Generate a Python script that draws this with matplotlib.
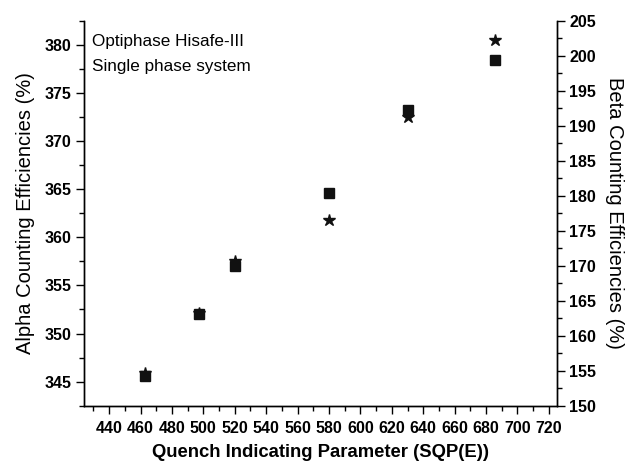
import matplotlib
matplotlib.use("Agg")
import matplotlib.pyplot as plt
from matplotlib.ticker import MultipleLocator

plt.rcParams['font.family'] = ['Liberation Sans', 'DejaVu Sans']

# quench parameter and counting efficiencies
sqp_e      = [463, 497, 520, 580, 630, 686]
alpha_eff  = [345.6, 352.0, 357.0, 364.6, 373.2, 378.4]
beta_eff   = [154.7, 163.3, 170.6, 176.5, 191.2, 202.2]

fig = plt.figure(figsize=(6.3, 4.65), dpi=100)
ax = fig.add_axes([84/630, 1 - 405.7/465, (556.7 - 84)/630, (405.7 - 20.7)/465])
ax2 = ax.twinx()

ax.plot(sqp_e, alpha_eff, 's', color='#111111', markersize=7, zorder=3)
ax2.plot(sqp_e, beta_eff, '*', color='#111111', markersize=9, zorder=3)

ax.set_xlim(424, 725)
ax.set_ylim(342.5, 382.5)
ax2.set_ylim(150, 205)

ax.xaxis.set_major_locator(MultipleLocator(20))
ax.xaxis.set_minor_locator(MultipleLocator(10))
ax.yaxis.set_major_locator(MultipleLocator(5))
ax.yaxis.set_minor_locator(MultipleLocator(2.5))
ax2.yaxis.set_major_locator(MultipleLocator(5))
ax2.yaxis.set_minor_locator(MultipleLocator(2.5))

for a in (ax, ax2):
    a.spines['top'].set_visible(False)
    for s in a.spines.values():
        s.set_linewidth(1.0)
    a.tick_params(which='major', direction='out', length=6, width=1.0,
                  labelsize=11.5, pad=3)
    a.tick_params(which='minor', direction='out', length=3.5, width=1.0)
    for lab in a.get_xticklabels() + a.get_yticklabels():
        lab.set_fontweight('bold')
ax.tick_params(axis='x', which='major', pad=5)

ax.set_xlabel("Quench Indicating Parameter (SQP(E))", fontsize=13.3,
              fontweight='bold', labelpad=6)
ax.set_ylabel("Alpha Counting Efficiencies (%)", fontsize=14.5, labelpad=7)
ax2.set_ylabel("Beta Counting Efficiencies (%)", fontsize=14.5, rotation=270,
               labelpad=20)

ax.text(0.017, 0.945, "Optiphase Hisafe-III", transform=ax.transAxes,
        fontsize=12.3, va='center', ha='left')
ax.text(0.017, 0.88, "Single phase system", transform=ax.transAxes,
        fontsize=12.3, va='center', ha='left')

fig.savefig("out.png", dpi=100)
